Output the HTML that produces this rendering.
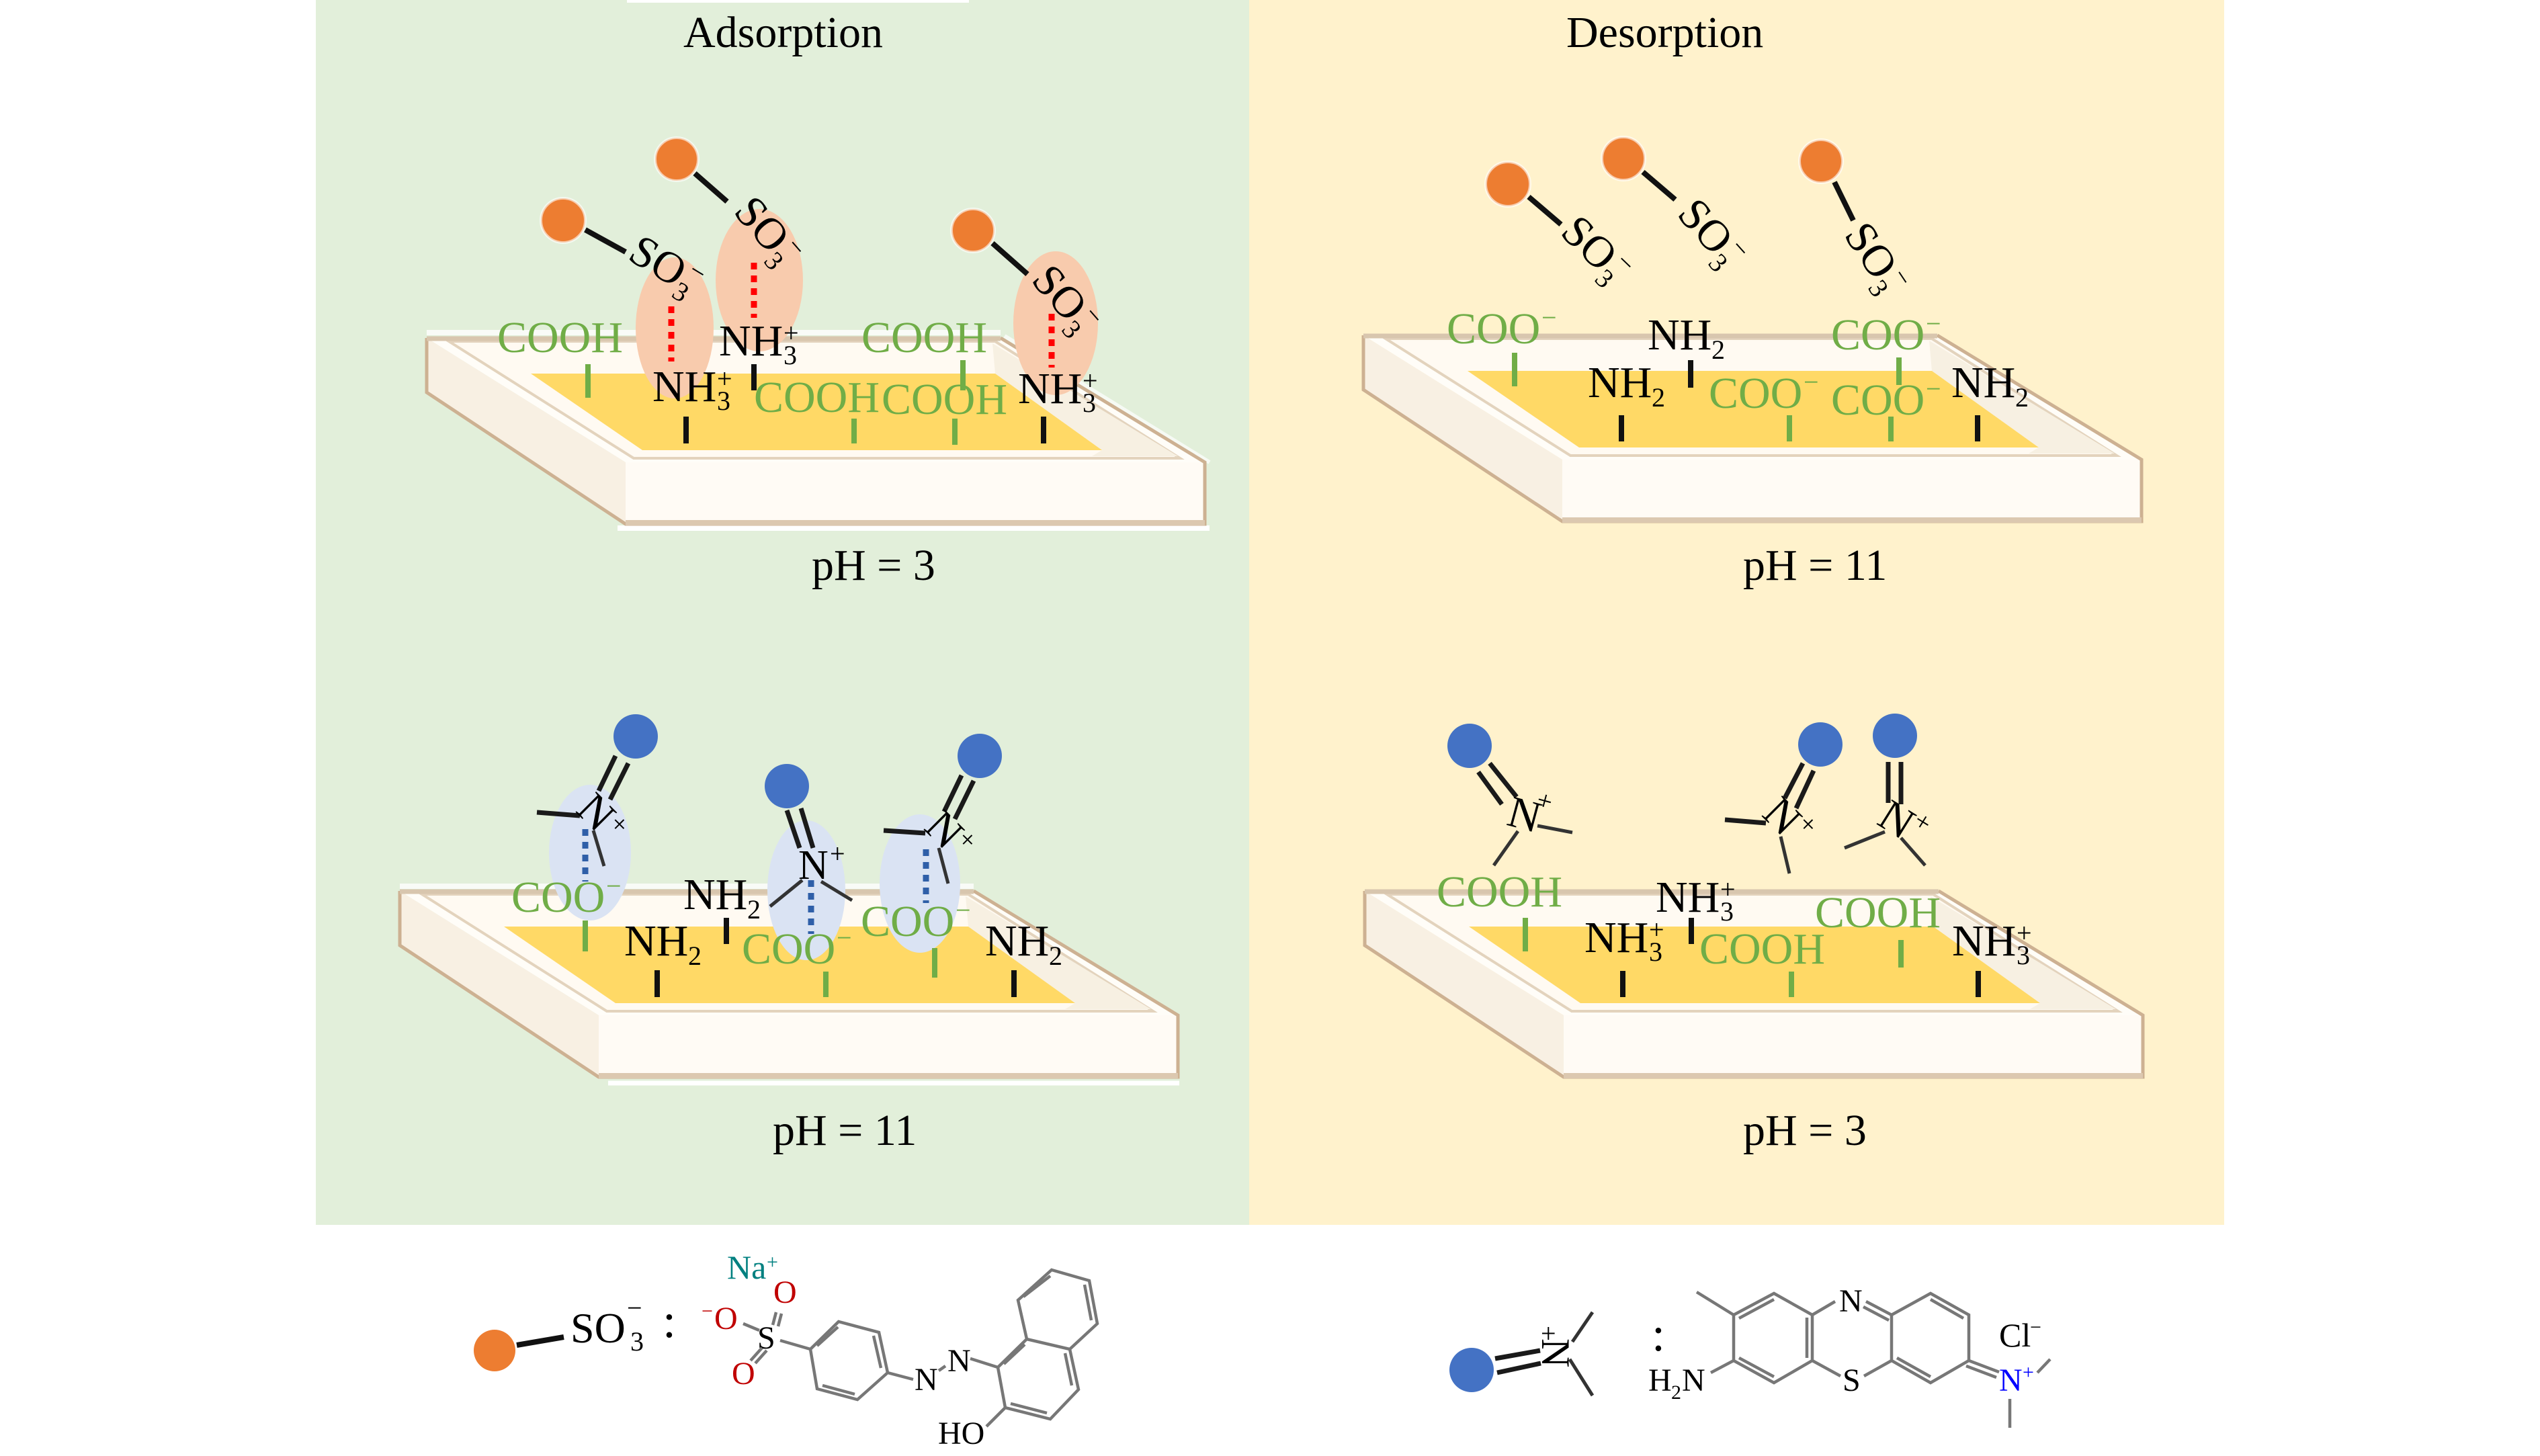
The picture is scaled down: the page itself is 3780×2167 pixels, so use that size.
<!DOCTYPE html>
<html>
<head>
<meta charset="utf-8">
<style>
html,body{margin:0;padding:0;background:#fff}
svg{display:block}
text{font-family:"Liberation Serif",serif;font-size:66px;fill:#000}
.s{font-size:40px}
.g text,text.g{fill:#70ad47}
.bk{stroke:#111;stroke-width:8;fill:none}
.gt{stroke:#70ad47;stroke-width:8;fill:none}
.bd{stroke:#1a1a1a;stroke-width:7;fill:none}
.thin{stroke:#333;stroke-width:5;fill:none}
.rd{stroke:#ff0000;stroke-width:9;stroke-dasharray:10 9;fill:none}
.bl{stroke:#2f5fa8;stroke-width:9;stroke-dasharray:10 9;fill:none}
.or{fill:#ed7d31;stroke:#fff;stroke-opacity:.6;stroke-width:4}
.bu{fill:#4472c4}
.pe{fill:#f8cbad}
.pb{fill:#dae3f3}
.m{stroke:#777;stroke-width:4.5;fill:none}
.m2{stroke:#999;stroke-width:4;fill:none}
</style>
</head>
<body>
<svg xmlns="http://www.w3.org/2000/svg" width="3780" height="2167" viewBox="0 0 3780 2167">
<defs>
<g id="tray">
<polygon points="0,0 296,185 296,277 0,81" fill="#f8f0e3"/>
<polygon points="296,185 1158,185 1158,277 296,277" fill="#fffbf5"/>
<polygon points="0,0 854,0 1158,185 296,185" fill="#fffdf8"/>
<polygon points="33,5 846,5 1121,179 308,179" fill="#fffaf2" stroke="#e3d3bd" stroke-width="4"/>
<polygon points="842,8 1118,176 990,176 1005,167 846,53" fill="#f7f0e2"/>
<polygon points="155,53 846,53 1005,167 321,167" fill="#ffd966"/>
<polyline points="854,0 1158,185 1158,277 296,277 0,81 0,0" fill="none" stroke="#cdb192" stroke-width="5"/>
<line x1="0" y1="1" x2="854" y2="1" stroke="#d8c6ae" stroke-width="7"/>
<line x1="296" y1="275" x2="1158" y2="275" stroke="#dcc8b0" stroke-width="8"/>
</g>
</defs>

<rect x="470" y="0" width="1389" height="1823" fill="#e2efda"/>
<rect x="1859" y="0" width="1451" height="1823" fill="#fff2cc"/>
<rect x="933" y="0" width="509" height="4" fill="#fff"/>

<text x="1017" y="70">Adsorption</text>
<text x="2331" y="70">Desorption</text>

<!-- Panel 1 -->
<line x1="635" y1="495" x2="1489" y2="495" stroke="#fff" stroke-width="8" opacity=".8"/>
<line x1="919" y1="786" x2="1800" y2="786" stroke="#fff" stroke-width="8"/>
<line x1="1495" y1="500" x2="1800" y2="688" stroke="#fff" stroke-width="6" opacity=".7"/>
<use href="#tray" x="635" y="503"/>
<ellipse class="pe" cx="1004" cy="488" rx="58" ry="105"/>
<ellipse class="pe" cx="1130" cy="417" rx="65" ry="106"/>
<ellipse class="pe" cx="1571" cy="481" rx="63" ry="107"/>
<line class="rd" x1="999" y1="456" x2="999" y2="538"/>
<line class="rd" x1="1122" y1="391" x2="1122" y2="473"/>
<line class="rd" x1="1565" y1="467" x2="1565" y2="547"/>
<line class="gt" x1="875" y1="542" x2="875" y2="592"/>
<line class="gt" x1="1433" y1="536" x2="1433" y2="581"/>
<line class="gt" x1="1271" y1="623" x2="1271" y2="660"/>
<line class="gt" x1="1421" y1="623" x2="1421" y2="662"/>
<line class="bk" x1="1122" y1="542" x2="1122" y2="581"/>
<line class="bk" x1="1021" y1="620" x2="1021" y2="660"/>
<line class="bk" x1="1553" y1="620" x2="1553" y2="660"/>
<circle class="or" cx="838" cy="328" r="33"/>
<circle class="or" cx="1007" cy="237" r="32"/>
<circle class="or" cx="1448" cy="343" r="32"/>
<line class="bk" x1="871" y1="342" x2="931" y2="375"/>
<line class="bk" x1="1034" y1="258" x2="1082" y2="300"/>
<line class="bk" x1="1477" y1="362" x2="1529" y2="408"/>
<g transform="translate(932,385) rotate(31)"><text>SO</text><text class="s" x="85" y="14">3</text><text class="s" x="90" y="-25">−</text></g>
<g transform="translate(1090,316) rotate(49)"><text>SO</text><text class="s" x="85" y="14">3</text><text class="s" x="90" y="-25">−</text></g>
<g transform="translate(1533,418) rotate(49)"><text>SO</text><text class="s" x="85" y="14">3</text><text class="s" x="90" y="-25">−</text></g>
<g class="g">
<text x="740" y="524">COOH</text>
<text x="1282" y="524">COOH</text>
<text x="1122" y="613">COOH</text>
<text x="1312" y="616">COOH</text>
</g>
<g transform="translate(1070,529)"><text>NH</text><text class="s" x="96" y="13">3</text><text class="s" x="96" y="-20">+</text></g>
<g transform="translate(971,597)"><text>NH</text><text class="s" x="96" y="13">3</text><text class="s" x="96" y="-20">+</text></g>
<g transform="translate(1515,600)"><text>NH</text><text class="s" x="96" y="13">3</text><text class="s" x="96" y="-20">+</text></g>
<text x="1208" y="863">pH = 3</text>

<!-- Panel 2 -->
<use href="#tray" x="2029" y="499"/>
<line class="gt" x1="2254" y1="525" x2="2254" y2="575"/>
<line class="gt" x1="2826" y1="532" x2="2826" y2="573"/>
<line class="gt" x1="2663" y1="618" x2="2663" y2="657"/>
<line class="gt" x1="2814" y1="620" x2="2814" y2="657"/>
<line class="bk" x1="2516" y1="536" x2="2516" y2="577"/>
<line class="bk" x1="2413" y1="618" x2="2413" y2="657"/>
<line class="bk" x1="2943" y1="618" x2="2943" y2="657"/>
<circle class="or" cx="2244" cy="274" r="33"/>
<circle class="or" cx="2416" cy="236" r="32"/>
<circle class="or" cx="2710" cy="240" r="32"/>
<line class="bk" x1="2275" y1="293" x2="2323" y2="334"/>
<line class="bk" x1="2445" y1="256" x2="2493" y2="297"/>
<line class="bk" x1="2730" y1="271" x2="2758" y2="328" stroke-width="6"/>
<g transform="translate(2320,348) rotate(44)"><text>SO</text><text class="s" x="85" y="14">3</text><text class="s" x="90" y="-25">−</text></g>
<g transform="translate(2494,320) rotate(48)"><text>SO</text><text class="s" x="85" y="14">3</text><text class="s" x="90" y="-25">−</text></g>
<g transform="translate(2743,350) rotate(56)"><text>SO</text><text class="s" x="85" y="14">3</text><text class="s" x="90" y="-25">−</text></g>
<g class="g">
<g transform="translate(2153,511)"><text>COO</text><text class="s" x="141" y="-25">−</text></g>
<g transform="translate(2725,520)"><text>COO</text><text class="s" x="141" y="-25">−</text></g>
<g transform="translate(2543,607)"><text>COO</text><text class="s" x="141" y="-25">−</text></g>
<g transform="translate(2725,617)"><text>COO</text><text class="s" x="141" y="-25">−</text></g>
</g>
<g transform="translate(2452,520)"><text>NH</text><text class="s" x="95" y="14">2</text></g>
<g transform="translate(2363,591)"><text>NH</text><text class="s" x="95" y="14">2</text></g>
<g transform="translate(2904,591)"><text>NH</text><text class="s" x="95" y="14">2</text></g>
<text x="2594" y="863">pH = 11</text>

<!-- Panel 3 -->
<line x1="595" y1="1319" x2="1449" y2="1319" stroke="#fff" stroke-width="8" opacity=".8"/>
<line x1="905" y1="1612" x2="1755" y2="1612" stroke="#fff" stroke-width="7"/>
<use href="#tray" x="595" y="1326"/>
<ellipse class="pb" cx="878" cy="1269" rx="61" ry="101"/>
<ellipse class="pb" cx="1200" cy="1325" rx="58" ry="104"/>
<ellipse class="pb" cx="1369" cy="1315" rx="60" ry="103"/>
<line class="bl" x1="871" y1="1234" x2="871" y2="1312"/>
<line class="bl" x1="1207" y1="1310" x2="1207" y2="1390"/>
<line class="bl" x1="1378" y1="1264" x2="1378" y2="1344"/>
<line class="gt" x1="871" y1="1370" x2="871" y2="1416"/>
<line class="gt" x1="1229" y1="1446" x2="1229" y2="1484"/>
<line class="gt" x1="1391" y1="1411" x2="1391" y2="1455"/>
<line class="bk" x1="1081" y1="1366" x2="1081" y2="1405"/>
<line class="bk" x1="978" y1="1444" x2="978" y2="1484"/>
<line class="bk" x1="1509" y1="1444" x2="1509" y2="1484"/>
<circle class="bu" cx="946" cy="1096" r="33"/>
<circle class="bu" cx="1171" cy="1170" r="33"/>
<circle class="bu" cx="1458" cy="1125" r="33"/>
<line class="bd" x1="916" y1="1125" x2="891" y2="1177"/>
<line class="bd" x1="935" y1="1136" x2="908" y2="1190"/>
<line class="bd" x1="799" y1="1209" x2="863" y2="1214"/>
<line class="thin" x1="883" y1="1236" x2="899" y2="1289"/>
<text transform="translate(887,1208) rotate(45)" x="-23" y="22">N</text>
<text class="s" transform="translate(920,1228) rotate(45)" x="-11" y="11">+</text>
<line class="bd" x1="1171" y1="1206" x2="1190" y2="1262"/>
<line class="bd" x1="1192" y1="1203" x2="1210" y2="1262"/>
<line class="thin" x1="1194" y1="1310" x2="1146" y2="1349"/>
<line class="thin" x1="1222" y1="1312" x2="1268" y2="1340"/>
<text x="1188" y="1308" style="font-size:62px">N</text>
<text class="s" x="1235" y="1284">+</text>
<line class="bd" x1="1431" y1="1154" x2="1405" y2="1208"/>
<line class="bd" x1="1449" y1="1162" x2="1421" y2="1219"/>
<line class="bd" x1="1315" y1="1236" x2="1377" y2="1240"/>
<line class="thin" x1="1397" y1="1262" x2="1411" y2="1315"/>
<text transform="translate(1405,1234) rotate(45)" x="-23" y="22">N</text>
<text class="s" transform="translate(1438,1251) rotate(45)" x="-11" y="11">+</text>
<g class="g">
<g transform="translate(761,1357)"><text>COO</text><text class="s" x="141" y="-25">−</text></g>
<g transform="translate(1104,1434)"><text>COO</text><text class="s" x="141" y="-25">−</text></g>
<g transform="translate(1281,1393)"><text>COO</text><text class="s" x="141" y="-25">−</text></g>
</g>
<g transform="translate(1017,1353)"><text>NH</text><text class="s" x="95" y="14">2</text></g>
<g transform="translate(929,1422)"><text>NH</text><text class="s" x="95" y="14">2</text></g>
<g transform="translate(1466,1422)"><text>NH</text><text class="s" x="95" y="14">2</text></g>
<text x="1150" y="1704">pH = 11</text>

<!-- Panel 4 -->
<use href="#tray" x="2031" y="1326"/>
<line class="gt" x1="2270" y1="1366" x2="2270" y2="1416"/>
<line class="gt" x1="2829" y1="1399" x2="2829" y2="1440"/>
<line class="gt" x1="2666" y1="1446" x2="2666" y2="1484"/>
<line class="bk" x1="2517" y1="1366" x2="2517" y2="1405"/>
<line class="bk" x1="2415" y1="1445" x2="2415" y2="1484"/>
<line class="bk" x1="2944" y1="1445" x2="2944" y2="1484"/>
<circle class="bu" cx="2187" cy="1110" r="33"/>
<circle class="bu" cx="2709" cy="1108" r="33"/>
<circle class="bu" cx="2820" cy="1095" r="33"/>
<line class="bd" x1="2200" y1="1149" x2="2235" y2="1197"/>
<line class="bd" x1="2217" y1="1136" x2="2257" y2="1186"/>
<line class="thin" x1="2288" y1="1229" x2="2340" y2="1239" stroke-width="6"/>
<line class="thin" x1="2259" y1="1237" x2="2223" y2="1288"/>
<text transform="translate(2268,1212) rotate(15)" x="-23" y="22">N</text>
<text class="s" transform="translate(2298,1194) rotate(15)" x="-11" y="11">+</text>
<line class="bd" x1="2683" y1="1136" x2="2656" y2="1188"/>
<line class="bd" x1="2699" y1="1147" x2="2673" y2="1203"/>
<line class="bd" x1="2567" y1="1220" x2="2628" y2="1225"/>
<line class="thin" x1="2650" y1="1245" x2="2663" y2="1300"/>
<text transform="translate(2652,1214) rotate(45)" x="-23" y="22">N</text>
<text class="s" transform="translate(2689,1228) rotate(45)" x="-11" y="11">+</text>
<line class="bd" x1="2810" y1="1134" x2="2810" y2="1195"/>
<line class="bd" x1="2829" y1="1134" x2="2829" y2="1197"/>
<line class="thin" x1="2805" y1="1238" x2="2745" y2="1262" stroke-width="6"/>
<line class="thin" x1="2829" y1="1247" x2="2865" y2="1288"/>
<text transform="translate(2822,1219) rotate(32)" x="-23" y="22">N</text>
<text class="s" transform="translate(2860,1225) rotate(32)" x="-11" y="11">+</text>
<g class="g">
<text x="2138" y="1349">COOH</text>
<text x="2529" y="1434">COOH</text>
<text x="2701" y="1380">COOH</text>
</g>
<g transform="translate(2464,1357)"><text>NH</text><text class="s" x="96" y="13">3</text><text class="s" x="96" y="-20">+</text></g>
<g transform="translate(2358,1417)"><text>NH</text><text class="s" x="96" y="13">3</text><text class="s" x="96" y="-20">+</text></g>
<g transform="translate(2905,1422)"><text>NH</text><text class="s" x="96" y="13">3</text><text class="s" x="96" y="-20">+</text></g>
<text x="2594" y="1704">pH = 3</text>

<!-- Legend left -->
<circle cx="736" cy="2010" r="31" fill="#ed7d31"/>
<line class="bk" x1="769" y1="2002" x2="839" y2="1990" stroke-width="9"/>
<text x="849" y="1998" style="font-size:64px">SO</text>
<text class="s" x="938" y="2010">3</text>
<text class="s" x="933" y="1960">−</text>
<text x="986" y="1990" style="font-size:72px">:</text>
<text x="1082" y="1903" style="font-size:50px;fill:#008080">Na</text>
<text x="1141" y="1888" style="font-size:30px;fill:#008080">+</text>
<text x="1151" y="1939" style="font-size:48px;fill:#c00000">O</text>
<text x="1063" y="1978" style="font-size:48px;fill:#c00000">O</text>
<text x="1044" y="1961" style="font-size:30px;fill:#c00000">−</text>
<text x="1089" y="2060" style="font-size:48px;fill:#c00000">O</text>
<text x="1127" y="2007" style="font-size:48px">S</text>
<g class="m">
<line x1="1106" y1="1970" x2="1130" y2="1980"/>
<line x1="1150" y1="1972" x2="1155" y2="1953"/>
<line x1="1158" y1="1974" x2="1163" y2="1955"/>
<line x1="1134" y1="2006" x2="1117" y2="2025"/>
<line x1="1141" y1="2010" x2="1124" y2="2029"/>
<line x1="1161" y1="1995" x2="1206" y2="2008"/>
<polygon points="1206,2008 1248,1967 1308,1983 1321,2043 1276,2083 1216,2067"/>
<line x1="1216" y1="2003" x2="1247" y2="1975"/>
<line x1="1300" y1="1988" x2="1311" y2="2036"/>
<line x1="1272" y1="2075" x2="1224" y2="2062"/>
<line x1="1321" y1="2043" x2="1359" y2="2053"/>
<line x1="1397" y1="2040" x2="1407" y2="2033"/>
<line x1="1444" y1="2022" x2="1485" y2="2035"/>
<polygon points="1485,2035 1528,1993 1592,2008 1605,2068 1563,2112 1496,2095"/>
<line x1="1494" y1="2030" x2="1525" y2="2001"/>
<line x1="1585" y1="2014" x2="1595" y2="2062"/>
<line x1="1558" y1="2103" x2="1504" y2="2089"/>
<polyline points="1528,1993 1515,1935 1565,1890 1621,1906 1633,1970 1592,2008"/>
<line x1="1523" y1="1930" x2="1563" y2="1899"/>
<line x1="1614" y1="1912" x2="1624" y2="1965"/>
<line x1="1496" y1="2095" x2="1468" y2="2123"/>
</g>
<text x="1361" y="2069" style="font-size:48px">N</text>
<text x="1410" y="2041" style="font-size:48px">N</text>
<text x="1396" y="2149" style="font-size:48px">HO</text>

<!-- Legend right -->
<circle cx="2190" cy="2039" r="33" fill="#4472c4"/>
<line class="bd" x1="2225" y1="2022" x2="2292" y2="2010" stroke-width="8"/>
<line class="bd" x1="2228" y1="2043" x2="2293" y2="2029" stroke-width="8"/>
<text transform="translate(2315,2013) rotate(90)" x="-21" y="20" style="font-size:60px">N</text>
<text class="s" x="2293" y="1998">+</text>
<line class="thin" x1="2340" y1="1997" x2="2370" y2="1953"/>
<line class="thin" x1="2336" y1="2023" x2="2370" y2="2077"/>
<text x="2458" y="2010" style="font-size:72px">:</text>
<g class="m">
<line x1="2525" y1="1923" x2="2580" y2="1957"/>
<polygon points="2580,1957 2640,1925 2697,1957 2697,2025 2640,2058 2580,2025"/>
<line x1="2588" y1="1962" x2="2640" y2="1934"/>
<line x1="2689" y1="1961" x2="2689" y2="2021"/>
<line x1="2588" y1="2021" x2="2640" y2="2049"/>
<line x1="2546" y1="2043" x2="2580" y2="2025"/>
<line x1="2697" y1="1957" x2="2731" y2="1937"/>
<line x1="2697" y1="2025" x2="2739" y2="2048"/>
<polygon points="2815,1957 2873,1925 2930,1957 2930,2025 2873,2058 2815,2025"/>
<line x1="2873" y1="1934" x2="2922" y2="1962"/>
<line x1="2823" y1="2021" x2="2873" y2="2049"/>
<line x1="2777" y1="1937" x2="2815" y2="1957"/>
<line x1="2773" y1="1945" x2="2811" y2="1965"/>
<line x1="2774" y1="2048" x2="2815" y2="2025"/>
<line x1="2930" y1="2025" x2="2975" y2="2042"/>
<line x1="2926" y1="2033" x2="2971" y2="2050"/>
<line x1="3032" y1="2043" x2="3051" y2="2023"/>
<line x1="2991" y1="2082" x2="2991" y2="2125"/>
</g>
<text x="2453" y="2070" style="font-size:48px">H</text>
<text x="2487" y="2082" style="font-size:30px">2</text>
<text x="2503" y="2070" style="font-size:48px">N</text>
<text x="2737" y="1952" style="font-size:48px">N</text>
<text x="2742" y="2070" style="font-size:48px">S</text>
<text x="2975" y="2070" style="font-size:48px;fill:#0000ff">N</text>
<text x="3010" y="2052" style="font-size:30px;fill:#0000ff">+</text>
<text x="2975" y="2004" style="font-size:50px">Cl</text>
<text x="3021" y="1985" style="font-size:30px">−</text>
</svg>
</body>
</html>
